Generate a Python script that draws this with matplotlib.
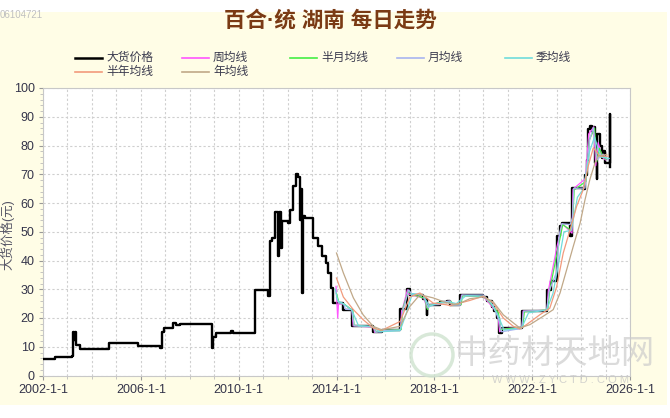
import matplotlib
matplotlib.use('Agg')
import matplotlib.pyplot as plt
from matplotlib.patches import Rectangle, Ellipse
from matplotlib.lines import Line2D
from matplotlib.ticker import MultipleLocator

plt.rcParams['font.family'] = ['Liberation Sans', 'Noto Sans CJK SC']

# 大货价格 (decimal year, price) - step series
price_t = [2002.00, 2002.49, 2003.20, 2003.23, 2003.27, 2003.31, 2003.35, 2003.51,
           2004.70, 2005.88, 2006.78, 2006.85, 2006.95, 2007.31, 2007.45, 2007.60,
           2008.91, 2008.95, 2009.07, 2009.70, 2009.78, 2010.67, 2011.20, 2011.28,
           2011.36, 2011.48, 2011.61, 2011.65, 2011.73, 2011.78, 2012.02, 2012.10,
           2012.22, 2012.34, 2012.43, 2012.49, 2012.53, 2012.59, 2012.63, 2012.71,
           2013.04, 2013.24, 2013.41, 2013.57, 2013.65, 2013.77, 2013.86, 2014.28,
           2014.62, 2015.50, 2015.85, 2016.60, 2016.88, 2017.00, 2017.55, 2017.69,
           2017.72, 2017.95, 2018.23, 2018.50, 2018.64, 2019.05, 2020.00, 2020.15,
           2020.35, 2020.45, 2020.55, 2020.65, 2020.75, 2021.57, 2022.59, 2022.75,
           2023.00, 2023.14, 2023.21, 2023.55, 2023.61, 2024.09, 2024.16, 2024.23,
           2024.29, 2024.36, 2024.43, 2024.50, 2024.57, 2024.64, 2024.67, 2024.77,
           2024.84, 2024.91, 2024.98, 2025.17, 2025.18]
price_v = [5.7, 6.5, 6.8, 15.3, 12.5, 15.0, 10.5, 9.1,
           11.4, 10.1, 9.6, 15.0, 16.5, 18.4, 17.6, 18.0,
           9.6, 13.5, 14.9, 15.6, 14.9, 29.8, 27.5, 46.7,
           48.0, 56.7, 41.5, 57.0, 44.5, 53.6, 53.0, 57.7,
           66.0, 70.0, 68.9, 54.0, 65.0, 28.8, 55.4, 54.9,
           48.0, 45.0, 41.5, 39.3, 35.8, 30.5, 25.2, 22.9,
           17.1, 15.0, 15.7, 23.0, 30.2, 28.1, 26.7, 21.1,
           24.6, 24.5, 25.6, 26.0, 24.4, 28.1, 27.3, 26.0,
           24.0, 22.3, 20.0, 14.8, 16.4, 22.6, 29.8, 32.8,
           48.4, 51.9, 53.0, 48.4, 65.3, 64.7, 69.9, 75.1,
           85.6, 86.7, 85.0, 86.6, 74.0, 68.2, 84.0, 79.7,
           75.5, 78.0, 74.0, 90.8, 72.5]

# 周均线
week_t = [2013.98, 2014.05, 2014.08, 2014.30, 2014.64, 2014.68, 2015.52, 2015.56,
          2015.87, 2016.62, 2016.66, 2016.90, 2016.94, 2017.57, 2017.70, 2017.74,
          2018.25, 2018.66, 2018.70, 2019.07, 2019.11, 2020.02, 2020.60, 2020.67,
          2020.77, 2021.59, 2021.63, 2022.61, 2022.66, 2023.02, 2023.23, 2023.63,
          2023.67, 2024.18, 2024.31, 2024.52, 2024.60, 2024.70, 2024.86, 2025.00]
week_v = [31.0, 20.0, 25.0, 24.8, 22.7, 17.3, 16.8, 15.0,
          15.6, 15.9, 22.0, 29.8, 28.4, 26.9, 23.5, 24.5,
          25.4, 25.9, 24.6, 24.5, 27.9, 27.4, 21.5, 15.2,
          16.2, 16.8, 22.4, 22.7, 29.5, 45.0, 52.8, 49.5,
          64.8, 68.5, 84.0, 86.5, 73.0, 81.0, 76.0, 75.0]

# 半月均线
half_month_t = [2014.00, 2014.10, 2014.32, 2014.66, 2014.72, 2015.54, 2015.60, 2015.90,
                2016.64, 2016.72, 2016.94, 2017.05, 2017.60, 2017.72, 2017.80, 2018.28,
                2018.68, 2018.75, 2019.09, 2019.15, 2020.05, 2020.62, 2020.72, 2020.80,
                2021.61, 2021.68, 2022.63, 2022.72, 2023.05, 2023.25, 2023.58, 2023.66,
                2023.72, 2024.20, 2024.34, 2024.55, 2024.64, 2024.75, 2024.90, 2025.05]
half_month_v = [28.5, 25.3, 24.8, 22.6, 17.4, 16.9, 15.1, 15.7,
                16.0, 23.5, 29.5, 28.3, 26.9, 23.0, 24.5, 25.5,
                25.8, 24.5, 24.6, 27.8, 27.5, 21.8, 15.8, 16.1,
                16.8, 22.2, 22.8, 29.8, 44.0, 52.5, 50.5, 55.0,
                64.6, 67.5, 82.0, 86.0, 74.5, 79.0, 76.0, 75.2]

# 月均线
month_t = [2014.00, 2014.10, 2014.28, 2014.37, 2014.62, 2014.72, 2015.50, 2015.60,
           2015.85, 2015.95, 2016.60, 2016.70, 2016.95, 2017.08, 2017.55, 2017.75,
           2017.85, 2018.23, 2018.32, 2018.64, 2018.72, 2019.05, 2019.13, 2020.00,
           2020.40, 2020.65, 2020.75, 2021.57, 2021.65, 2022.59, 2022.70, 2023.00,
           2023.10, 2023.21, 2023.55, 2023.65, 2023.70, 2024.16, 2024.35, 2024.50,
           2024.65, 2024.90, 2025.10]
month_v = [27.0, 25.3, 25.0, 23.0, 22.9, 17.3, 17.0, 15.1,
           15.2, 15.7, 15.8, 22.0, 29.8, 28.3, 28.0, 23.5,
           24.5, 24.7, 25.5, 25.9, 24.5, 24.5, 28.0, 28.0,
           24.5, 19.0, 15.2, 16.4, 22.4, 22.6, 29.5, 36.0,
           48.5, 52.8, 52.5, 55.0, 65.1, 65.2, 82.0, 86.3,
           75.0, 77.0, 75.0]

# 季均线
quarter_t = [2013.95, 2014.05, 2014.28, 2014.55, 2014.62, 2014.90, 2015.50, 2015.75,
             2016.60, 2016.85, 2017.10, 2017.55, 2017.80, 2018.00, 2018.25, 2018.65,
             2018.90, 2019.30, 2020.00, 2020.30, 2020.60, 2020.85, 2021.57, 2021.85,
             2022.59, 2022.85, 2023.10, 2023.30, 2023.60, 2023.85, 2024.09, 2024.35,
             2024.55, 2024.80, 2025.15]
quarter_v = [30.0, 26.0, 25.0, 23.2, 22.9, 17.3, 17.1, 15.2,
             15.6, 21.5, 28.5, 27.8, 24.0, 24.7, 25.4, 25.5,
             25.0, 27.8, 27.5, 25.5, 21.0, 15.8, 16.6, 21.8,
             22.8, 28.5, 40.0, 50.0, 50.5, 62.0, 64.8, 78.0,
             83.0, 76.0, 75.5]

# 半年均线
half_year_t = [2014.00, 2014.28, 2014.69, 2015.09, 2015.50, 2015.85, 2016.60, 2017.00,
               2017.41, 2017.95, 2018.50, 2018.64, 2019.45, 2020.00, 2020.41, 2020.82,
               2021.23, 2021.50, 2021.77, 2022.31, 2022.72, 2023.00, 2023.27, 2023.55,
               2023.82, 2024.09, 2024.29, 2024.50, 2024.77, 2025.11]
half_year_v = [33.9, 27.3, 22.9, 19.4, 16.5, 15.7, 18.8, 27.3,
               28.7, 25.2, 24.6, 24.3, 26.1, 27.6, 25.2, 20.0,
               17.1, 16.2, 17.7, 21.1, 23.4, 30.8, 42.6, 50.7,
               58.9, 64.7, 72.8, 79.2, 76.3, 76.3]

# 年均线
year_t = [2014.00, 2014.28, 2014.69, 2015.09, 2015.50, 2015.85, 2016.60, 2017.00,
          2017.41, 2017.95, 2018.50, 2018.91, 2019.45, 2020.00, 2020.41, 2020.82,
          2021.23, 2021.50, 2021.91, 2022.45, 2022.86, 2023.14, 2023.41, 2023.68,
          2023.96, 2024.16, 2024.36, 2024.57, 2024.70, 2025.05]
year_v = [42.6, 35.7, 27.0, 21.1, 17.1, 15.9, 17.1, 24.0,
          28.1, 27.0, 25.3, 24.6, 26.7, 27.3, 25.6, 21.1,
          18.3, 16.5, 17.7, 20.6, 22.9, 28.7, 36.8, 44.9,
          53.0, 61.1, 68.2, 74.0, 76.3, 76.9]

series = [
    ('大货价格', price_t, price_v, '#000000', 1.7),
    ('周均线', week_t, week_v, '#ff55ff', 0.9),
    ('半月均线', half_month_t, half_month_v, '#44ee44', 0.9),
    ('月均线', month_t, month_v, '#a8b4f0', 0.9),
    ('季均线', quarter_t, quarter_v, '#70dcdc', 0.9),
    ('半年均线', half_year_t, half_year_v, '#f29a7c', 0.9),
    ('年均线', year_t, year_v, '#c0a888', 0.9),
]

W, H = 670, 418
fig = plt.figure(figsize=(6.7, 4.18), dpi=100, facecolor='white')
fig.patches.append(Rectangle((0, 1 - 405 / H), 667 / W, (405 - 12) / H,
                             transform=fig.transFigure, facecolor='#fffde6',
                             edgecolor='none', zorder=-10))

ax = fig.add_axes([43 / W, 1 - 375.5 / H, (630 - 43) / W, (375.5 - 88) / H])
ax.set_facecolor('white')

for i, (name, t, v, c, lw) in enumerate(series):
    if i == 0:
        ax.plot(t, v, color=c, lw=lw, drawstyle='steps-post', zorder=3)
    else:
        ax.plot(t, v, color=c, lw=lw, zorder=4)

ax.set_xlim(2002, 2026)
ax.set_ylim(0, 100)
ax.xaxis.set_minor_locator(MultipleLocator(1))
ax.yaxis.set_major_locator(MultipleLocator(10))
ax.yaxis.set_minor_locator(MultipleLocator(2))
ax.set_xticks([2002, 2006, 2010, 2014, 2018, 2022, 2026])
ax.set_xticklabels([f'{y}-1-1' for y in [2002, 2006, 2010, 2014, 2018, 2022, 2026]])
ax.grid(True, which='major', color='#cfcfcf', lw=0.8, ls=(0, (2, 2)))
ax.grid(True, which='minor', axis='x', color='#cfcfcf', lw=0.8, ls=(0, (2, 2)))
ax.tick_params(axis='both', which='major', labelsize=9, labelcolor='#34344a',
               color='#999999', length=3, pad=3)
ax.tick_params(axis='both', which='minor', color='#bbbbbb', length=2)
for s in ax.spines.values():
    s.set_color('#c8c8c8')
    s.set_linewidth(0.8)

fig.text(330 / W, 1 - 21 / H, '百合·统 湖南 每日走势', ha='center', va='center',
         fontsize=15.5, fontweight='bold', color='#7a3a14')
fig.text(0, 1 - 15 / H, '06104721', ha='left', va='center', fontsize=7, color='#c0c0c0')
fig.text(7 / W, 1 - 235 / H, '大货价格(元)', rotation=90, ha='center', va='center',
         fontsize=9, color='#555566')

# legend drawn by hand to keep even column spacing
cols = [75, 182, 290, 397, 505]
rows = [58, 72]
for i, (name, t, v, c, lw) in enumerate(series):
    r, k = divmod(i, 5)
    x0 = cols[k]
    y0 = 1 - rows[r] / H
    fig.add_artist(Line2D([x0 / W, (x0 + 27) / W], [y0, y0], color=c,
                          lw=1.8 if i == 0 else 1.2, transform=fig.transFigure))
    fig.text((x0 + 31) / W, y0, name, ha='left', va='center', fontsize=8.5, color='#3a3a4e')

# faint site watermark
fig.patches.append(Ellipse((432 / W, 1 - 355 / H), 42 / W, 42 / H, transform=fig.transFigure,
                           facecolor='none', edgecolor='#cfe3cf', lw=2.5, alpha=0.8))
fig.text(455 / W, 1 - 354 / H, '中药材天地网', ha='left', va='center', fontsize=24,
         color='#cccccc', alpha=0.7)
fig.text(560 / W, 1 - 380 / H, 'W W W . Z Y C T D . C O M', ha='center', va='center',
         fontsize=8, color='#c8c8c8', alpha=0.8)

fig.savefig('out.png', dpi=100, facecolor='white')
